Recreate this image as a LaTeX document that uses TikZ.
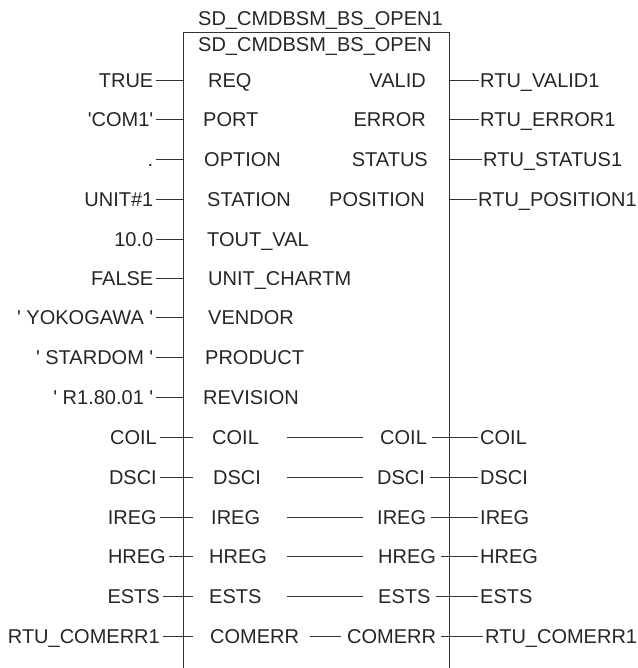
\documentclass[tikz,border=0pt]{standalone}
\usepackage{fontspec}
\newfontfamily\plcfont{Liberation Sans}
\tikzset{
  sigtxt/.style={font=\plcfont\fontsize{20}{24}\selectfont, text=black!85,
    inner sep=0pt, text height=14.3pt, text depth=0pt},
  argl/.style={sigtxt, anchor=east, inner xsep=2.5pt},
  argr/.style={sigtxt, anchor=west, inner xsep=1pt},
  portl/.style={sigtxt, anchor=west},
  portr/.style={sigtxt, anchor=east},
  wire/.style={line width=0.9pt, black!80}
}
\begin{document}
\begin{tikzpicture}[x=1pt, y=-1pt]
  \useasboundingbox (0,0) rectangle (637,668);

  % block frame (open at the bottom)
  \coordinate (tl) at (183,32);
  \coordinate (tr) at (449,32);
  \coordinate (bl) at (183,668);
  \coordinate (br) at (449,668);
  \coordinate (tli) at (193,32); % end of in-out stubs inside the frame
  \draw[wire] (bl) -- (tl) -- (tr) -- (br);
  \node[sigtxt, anchor=west] (inst) at (198,18) {SD\_CMDBSM\_BS\_OPEN1};
  \node[sigtxt, anchor=west] (type) at (198,44) {SD\_CMDBSM\_BS\_OPEN};

  % inputs
  \node[argl] (e-req)  at (156,80)    {TRUE};
  \node[argl] (e-port) at (156,119.5) {'COM1'};
  \node[argl] (e-opt)  at (156,159)   {.};
  \node[argl] (e-stn)  at (156,199)   {UNIT\#1};
  \node[argl] (e-tout) at (156,239)   {10.0};
  \node[argl] (e-unit) at (156,278)   {FALSE};
  \node[argl] (e-vend) at (156,317.5) {' YOKOGAWA '};
  \node[argl] (e-prod) at (156,357)   {' STARDOM '};
  \node[argl] (e-rev)  at (156,397)   {' R1.80.01 '};

  \node[portl] (p-req)  at (208,80)    {REQ};
  \node[portl] (p-port) at (203,119.5) {PORT};
  \node[portl] (p-opt)  at (204,159)   {OPTION};
  \node[portl] (p-stn)  at (207,199)   {STATION};
  \node[portl] (p-tout) at (207,239)   {TOUT\_VAL};
  \node[portl] (p-unit) at (208,278)   {UNIT\_CHARTM};
  \node[portl] (p-vend) at (208,317.5) {VENDOR};
  \node[portl] (p-prod) at (205,357)   {PRODUCT};
  \node[portl] (p-rev)  at (203,397)   {REVISION};

  \foreach \n in {req,port,opt,stn,tout,unit,vend,prod,rev}
    \draw[wire] (e-\n.east) -- (e-\n.east -| tl);

  % outputs
  \node[portr] (p-valid) at (426,80)    {VALID};
  \node[portr] (p-err)   at (426,119.5) {ERROR};
  \node[portr] (p-stat)  at (428,159)   {STATUS};
  \node[portr] (p-pos)   at (425,199)   {POSITION};

  \node[argr] (e-valid) at (479,80)    {RTU\_VALID1};
  \node[argr] (e-err)   at (479,119.5) {RTU\_ERROR1};
  \node[argr] (e-stat)  at (482,159)   {RTU\_STATUS1};
  \node[argr] (e-pos)   at (477,199)   {RTU\_POSITION1};

  \foreach \n in {valid,err,stat,pos}
    \draw[wire] (e-\n.west -| tr) -- (e-\n.west);

  % in-out variables
  \coordinate (mida) at (287,0);
  \coordinate (midb) at (363,0);

  \node[argl]  (e-coil)  at (159.5,437.5) {COIL};
  \node[argl]  (e-dsci)  at (159.5,477.5) {DSCI};
  \node[argl]  (e-ireg)  at (159.5,517)   {IREG};
  \node[argl]  (e-hreg)  at (168.5,556.5) {HREG};
  \node[argl]  (e-ests)  at (162.5,596.5) {ESTS};
  \node[argl]  (e-cmerr) at (162.5,636)   {RTU\_COMERR1};

  \node[portl] (p-coil)  at (212,437.5) {COIL};
  \node[portl] (p-dsci)  at (213,477.5) {DSCI};
  \node[portl] (p-ireg)  at (211,517)   {IREG};
  \node[portl] (p-hreg)  at (209,556.5) {HREG};
  \node[portl] (p-ests)  at (209,596.5) {ESTS};
  \node[portl] (p-cmerr) at (210,636)   {COMERR};

  \node[portl] (q-coil)  at (380,437.5) {COIL};
  \node[portl] (q-dsci)  at (377,477.5) {DSCI};
  \node[portl] (q-ireg)  at (377,517)   {IREG};
  \node[portl] (q-hreg)  at (378,556.5) {HREG};
  \node[portl] (q-ests)  at (378,596.5) {ESTS};
  \node[portl] (q-cmerr) at (347,636)   {COMERR};

  \node[argr]  (f-coil)  at (479,437.5) {COIL};
  \node[argr]  (f-dsci)  at (479,477.5) {DSCI};
  \node[argr]  (f-ireg)  at (479,517)   {IREG};
  \node[argr]  (f-hreg)  at (479,556.5) {HREG};
  \node[argr]  (f-ests)  at (479,596.5) {ESTS};
  \node[argr]  (f-cmerr) at (484,636)   {RTU\_COMERR1};

  \foreach \n in {coil,dsci,ireg,hreg,ests,cmerr}{
    \draw[wire] (e-\n.east) -- (e-\n.east -| tli);
    \draw[wire] ([xshift=5pt]q-\n.east) -- ([xshift=-1pt]f-\n.west);
  }
  \foreach \n in {coil,dsci,ireg,hreg,ests}
    \draw[wire] (p-\n -| mida) -- (p-\n -| midb);
  \draw[wire] ([xshift=11pt]p-cmerr.east) -- ([xshift=-6pt]q-cmerr.west);
\end{tikzpicture}
\end{document}
